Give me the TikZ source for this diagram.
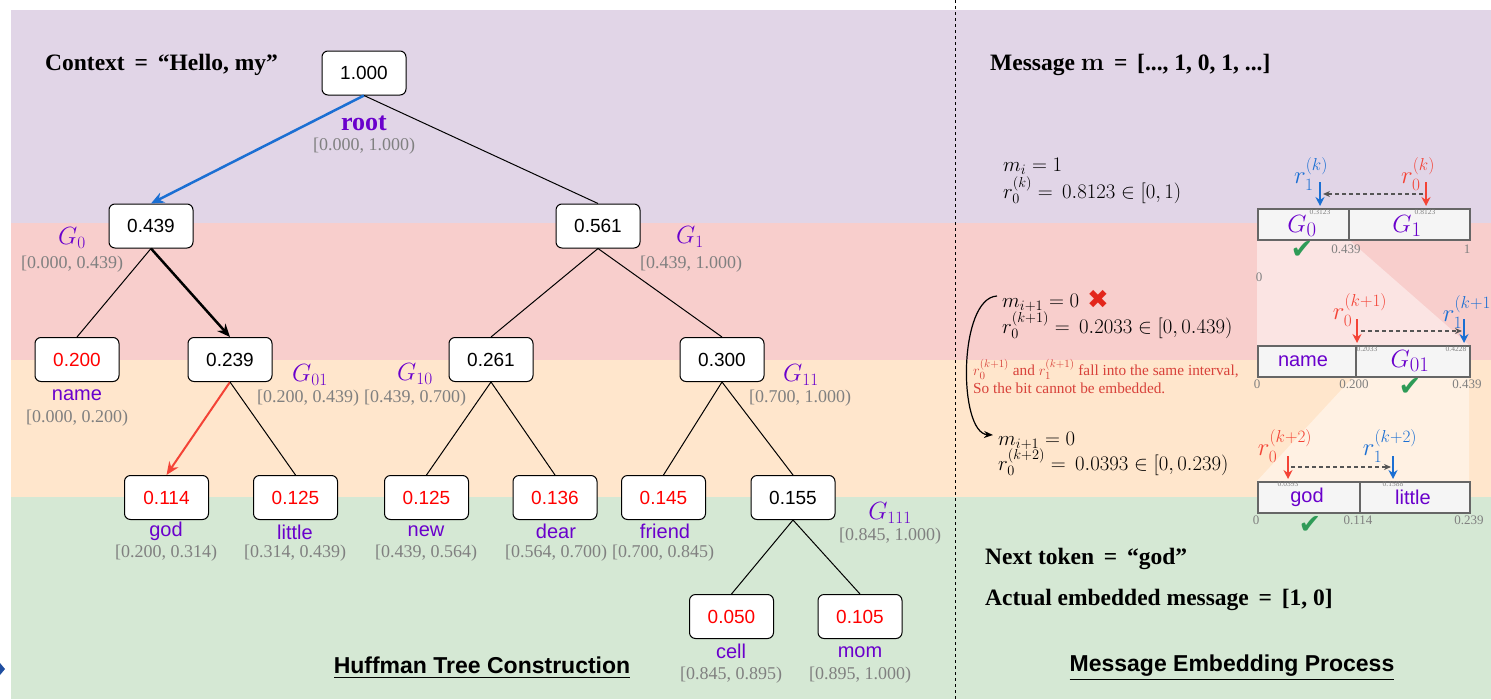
\documentclass[tikz,border=0pt]{standalone}
\usepackage[no-math]{fontspec}
\setmainfont{Liberation Serif}
\setsansfont{Liberation Sans}
\newfontfamily\symfont{DejaVu Sans}
\usepackage{amsmath}
\usetikzlibrary{arrows.meta}
\definecolor{bgpurple}{HTML}{E1D5E7}
\definecolor{bgred}{HTML}{F8CECC}
\definecolor{bgorange}{HTML}{FFE6CC}
\definecolor{bggreen}{HTML}{D5E8D4}
\definecolor{tpurple}{HTML}{6A00CC}
\definecolor{tblue}{HTML}{1B6FD3}
\definecolor{tred}{HTML}{F44336}
\definecolor{tgray}{HTML}{808080}
\definecolor{tgreen}{HTML}{2E9B57}
\definecolor{xred}{HTML}{E3261B}
\definecolor{notered}{HTML}{D8413A}
\definecolor{barfill}{HTML}{F5F5F5}
\definecolor{barline}{HTML}{666666}
\definecolor{dgray}{HTML}{555555}
\definecolor{tipblue}{HTML}{1F4EA0}
\newcommand{\ssz}[1]{{\scriptscriptstyle #1}}
\begin{document}
\begin{tikzpicture}[x=1pt,y=-1pt,
 nbox/.style={draw=black, line width=1pt, rounded corners=6pt, fill=white, minimum width=84pt, minimum height=44pt, inner sep=0pt, font=\sffamily\fontsize{19}{22}\selectfont},
 lbox/.style={nbox, text=red},
 ivl/.style={text=tgray, font=\fontsize{18}{20}\selectfont, inner sep=0pt},
 glab/.style={text=tpurple, font=\fontsize{25}{28}\selectfont, inner sep=0pt},
 bglab/.style={text=tpurple, font=\fontsize{28}{30}\selectfont, inner sep=0pt},
 tok/.style={text=tpurple, font=\sffamily\fontsize{20}{24}\selectfont, inner sep=0pt},
 link/.style={line width=1pt, draw=black},
 ttl/.style={font=\sffamily\bfseries\fontsize{23}{26}\selectfont, inner sep=0pt},
 hdr/.style={font=\bfseries\fontsize{23.5}{28}\selectfont, inner sep=0pt, anchor=base west},
 mth/.style={font=\fontsize{22}{26}\selectfont, inner sep=0pt, anchor=base west},
 seg/.style={draw=barline, fill=barfill, line width=1.5pt, inner sep=0pt, anchor=north west, minimum height=31pt},
 barlab/.style={text=tgray, font=\fontsize{13}{15}\selectfont, inner sep=0pt},
 tinylab/.style={text=tgray, font=\fontsize{7.5}{8}\selectfont, inner sep=0pt},
 rlab/.style={font=\fontsize{32}{34}\selectfont, inner sep=0pt},
 ck/.style={text=tgreen, font=\symfont\fontsize{27}{28}\selectfont, inner sep=0pt},
 ptr/.style={line width=2pt, -{Stealth[length=9pt,width=9pt]}},
 dsh/.style={dash pattern=on 4pt off 3pt, draw=dgray, line width=1.2pt, -{Stealth[length=7pt,width=6pt]}},
]
\useasboundingbox (0,0) rectangle (1491,699);
\fill[white] (0,0) rectangle (1491,699);
% background bands
\fill[bgpurple] (11,10) rectangle (1491,223);
\fill[bgred] (11,223) rectangle (1491,360);
\fill[bgorange] (11,360) rectangle (1491,497);
\fill[bggreen] (11,497) rectangle (1491,699);
\fill[tipblue] (0,663) -- (5,669) -- (0,675) -- cycle;
% separator
\draw[line width=1pt, dash pattern=on 3pt off 3pt] (955,0) -- (955,699);
% zoom shading
\fill[white, opacity=0.45] (1257,239) -- (1348,239) -- (1469,345) -- (1257,345) -- cycle;
\fill[white, opacity=0.45] (1355,375) -- (1469,375) -- (1469,481) -- (1257,481) -- cycle;

% ---------- tree ----------
\node[nbox] (n) at (364,73) {1.000};
\node[nbox] (n0) at (151,226) {0.439};
\node[nbox] (n1) at (598,226) {0.561};
\node[lbox] (nname) at (77,359.5) {0.200};
\node[nbox] (n01) at (230,359.5) {0.239};
\node[nbox] (n10) at (491,359.5) {0.261};
\node[nbox] (n11) at (722,359.5) {0.300};
\node[lbox] (ngod) at (166.5,497.5) {0.114};
\node[lbox] (nlittle) at (295.5,497.5) {0.125};
\node[lbox] (nnew) at (426.5,497.5) {0.125};
\node[lbox] (ndear) at (555,497.5) {0.136};
\node[lbox] (nfriend) at (663.5,497.5) {0.145};
\node[nbox] (n111) at (793,497.5) {0.155};
\node[lbox] (ncell) at (731.5,616.5) {0.050};
\node[lbox] (nmom) at (860,616.5) {0.105};

\draw[line width=2.5pt, draw=tblue, -{Stealth[length=13pt,width=11pt]}] (n.south) -- (n0.north);
\draw[link] (n.south) -- (n1.north);
\draw[link] (n0.south) -- (nname.north);
\draw[line width=2.5pt, -{Stealth[length=13pt,width=11pt]}] (n0.south) -- (n01.north);
\draw[link] (n1.south) -- (n10.north);
\draw[link] (n1.south) -- (n11.north);
\draw[line width=2pt, draw=tred, -{Stealth[length=13pt,width=11pt]}] (n01.south) -- (ngod.north);
\draw[link] (n01.south) -- (nlittle.north);
\draw[link] (n10.south) -- (nnew.north);
\draw[link] (n10.south) -- (ndear.north);
\draw[link] (n11.south) -- (nfriend.north);
\draw[link] (n11.south) -- (n111.north);
\draw[link] (n111.south) -- (ncell.north);
\draw[link] (n111.south) -- (nmom.north);

% tree labels
\node[text=tpurple, font=\bfseries\fontsize{26}{30}\selectfont, inner sep=0pt] (lroot) at (364,123) {root};
\node[ivl] (iroot) at (364,146) {[0.000, 1.000)};
\node[glab] (lg0) at (72,238) {$G_0$};
\node[ivl] (ig0) at (72,264) {[0.000, 0.439)};
\node[glab] (lg1) at (690,237) {$G_1$};
\node[ivl] (ig1) at (691,264) {[0.439, 1.000)};
\node[tok] (lname) at (77,395) {name};
\node[ivl] (iname) at (77,418) {[0.000, 0.200)};
\node[glab] (lg01) at (310,375) {$G_{01}$};
\node[ivl] (ig01) at (308,398) {[0.200, 0.439)};
\node[glab] (lg10) at (415,374) {$G_{10}$};
\node[ivl] (ig10) at (415,398) {[0.439, 0.700)};
\node[glab] (lg11) at (801,375) {$G_{11}$};
\node[ivl] (ig11) at (800,398) {[0.700, 1.000)};
\node[glab] (lg111) at (890,513) {$G_{111}$};
\node[ivl] (ig111) at (890,536) {[0.845, 1.000)};
\node[tok] (lgod) at (166,531) {god};
\node[ivl] (igod) at (166,553) {[0.200, 0.314)};
\node[tok] (llittle) at (295,532) {little};
\node[ivl] (ilittle) at (295,553) {[0.314, 0.439)};
\node[tok] (lnew) at (426,531) {new};
\node[ivl] (inew) at (426,553) {[0.439, 0.564)};
\node[tok] (ldear) at (556,531) {dear};
\node[ivl] (idear) at (556,553) {[0.564, 0.700)};
\node[tok] (lfriend) at (665,531) {friend};
\node[ivl] (ifriend) at (663,553) {[0.700, 0.845)};
\node[tok] (lcell) at (731,651) {cell};
\node[ivl] (icell) at (731,675) {[0.845, 0.895)};
\node[tok] (lmom) at (860,652) {mom};
\node[ivl] (imom) at (860,675) {[0.895, 1.000)};

\node[hdr] (ctx) at (45,70) {Context \,=\, “Hello, my”};
\node[ttl] (t1) at (482,668) {\underline{Huffman Tree Construction}};

% ---------- right panel ----------
\node[hdr] (msg) at (990,70) {Message {$\mathbf{m}$} \,=\, [..., 1, 0, 1, ...]};
\node[mth] (a1) at (1003,171) {$m_i = 1$};
\node[mth] (a2) at (1003,198) {$r_0^{(k)} =\, 0.8123 \in [0,1)$};
\node[mth] (b1) at (1002,307) {$m_{i+1} = 0$};
\node[text=xred, font=\symfont\fontsize{26}{28}\selectfont, inner sep=0pt] (xx) at (1098,299) {✖};
\node[mth] (b2) at (1002,333) {$r_0^{(k+1)} =\, 0.2033 \in [0,0.439)$};
\node[text=notered, font=\fontsize{15.3}{18}\selectfont, inner sep=0pt, anchor=base west] (nt1) at (973,375) {$r_0^{(k+1)}$ and $r_1^{(k+1)}$ fall into the same interval,};
\node[text=notered, font=\fontsize{15.3}{18}\selectfont, inner sep=0pt, anchor=base west] (nt2) at (973,393) {So the bit cannot be embedded.};
\node[mth] (c1) at (998,445) {$m_{i+1} = 0$};
\node[mth] (c2) at (998,470) {$r_0^{(k+2)} =\, 0.0393 \in [0,0.239)$};
\coordinate (ca1) at (997,296);
\coordinate (ca2) at (993,435);
\draw[line width=1.2pt, -{Stealth[length=9pt,width=7pt]}] (ca1) .. controls (958,298) and (958,433) .. (ca2);

\node[hdr] (nxt) at (985,564) {Next token \,=\, “god”};
\node[hdr] (act) at (985,605) {Actual embedded message \,=\, [1, 0]};
\node[ttl] (t2) at (1232,668) {\underline{Message Embedding Process}};

% bar 1
\node[seg, minimum width=91pt] (s0) at (1257,208) {};
\node[seg, minimum width=121pt] (s1) at (1348,208) {};
\node[bglab] (bg0) at (1302,226) {$G_0$};
\node[bglab] (bg1) at (1407,226) {$G_1$};
\node[tinylab] (q1) at (1320,212) {0.3123};
\node[tinylab] (q2) at (1425,212) {0.8123};
\node[ck] (k1) at (1302,250) {✔};
\node[barlab] (v1) at (1346,249) {0.439};
\node[barlab] (v2) at (1467,249) {1};
\node[barlab] (v0) at (1259,277) {0};
\node[rlab, text=tblue] (r1k) at (1311,174) {$r_{\ssz{1}}^{\ssz{(k)}}$};
\node[rlab, text=tred] (r0k) at (1418,174) {$r_{\ssz{0}}^{\ssz{(k)}}$};
\coordinate (p1a) at (1320,182); \coordinate (p1b) at (1320,206);
\coordinate (p2a) at (1426,182); \coordinate (p2b) at (1426,206);
\draw[ptr, draw=tblue] (p1a) -- (p1b);
\draw[ptr, draw=tred] (p2a) -- (p2b);
\coordinate (d1a) at (1423,194); \coordinate (d1b) at (1323,194);
\draw[dsh] (d1a) -- (d1b);

% bar 2
\node[seg, minimum width=98pt] (s00) at (1257,345) {};
\node[seg, minimum width=114pt] (s01) at (1355,345) {};
\node[tok] (bname) at (1303,361) {name};
\node[bglab] (bg01) at (1410,361) {$G_{01}$};
\node[tinylab] (q3) at (1367,349) {0.2033};
\node[tinylab] (q4) at (1456,349) {0.4228};
\node[barlab] (v3) at (1257,384) {0};
\node[barlab] (v4) at (1354,384) {0.200};
\node[barlab] (v5) at (1467,384) {0.439};
\node[ck] (k2) at (1410,387) {✔};
\node[rlab, text=tred] (r0k1) at (1360,310) {$r_{\ssz{0}}^{\ssz{(k+1)}}$};
\node[rlab, text=tblue] (r1k1) at (1470,312) {$r_{\ssz{1}}^{\ssz{(k+1)}}$};
\coordinate (p3a) at (1357,319); \coordinate (p3b) at (1357,343);
\coordinate (p4a) at (1464,319); \coordinate (p4b) at (1464,343);
\draw[ptr, draw=tred] (p3a) -- (p3b);
\draw[ptr, draw=tblue] (p4a) -- (p4b);
\coordinate (d2a) at (1361,331); \coordinate (d2b) at (1462,331);
\draw[dsh] (d2a) -- (d2b);

% bar 3
\node[seg, minimum width=102pt] (s010) at (1257,481) {};
\node[seg, minimum width=110pt] (s011) at (1359,481) {};
\node[tok] (bgod) at (1307,497) {god};
\node[tok] (blittle) at (1413,497) {little};
\node[tinylab] (q5) at (1288,484) {0.0393};
\node[tinylab] (q6) at (1393,484) {0.1588};
\node[barlab] (v6) at (1256,520) {0};
\node[barlab] (v7) at (1358,520) {0.114};
\node[barlab] (v8) at (1469,520) {0.239};
\node[ck] (k3) at (1310,525) {✔};
\node[rlab, text=tred] (r0k2) at (1285,446) {$r_{\ssz{0}}^{\ssz{(k+2)}}$};
\node[rlab, text=tblue] (r1k2) at (1390,446) {$r_{\ssz{1}}^{\ssz{(k+2)}}$};
\coordinate (p5a) at (1288,456); \coordinate (p5b) at (1288,479);
\coordinate (p6a) at (1393,456); \coordinate (p6b) at (1393,479);
\draw[ptr, draw=tred] (p5a) -- (p5b);
\draw[ptr, draw=tblue] (p6a) -- (p6b);
\coordinate (d3a) at (1291,467); \coordinate (d3b) at (1391,467);
\draw[dsh] (d3a) -- (d3b);
\end{tikzpicture}
\end{document}
